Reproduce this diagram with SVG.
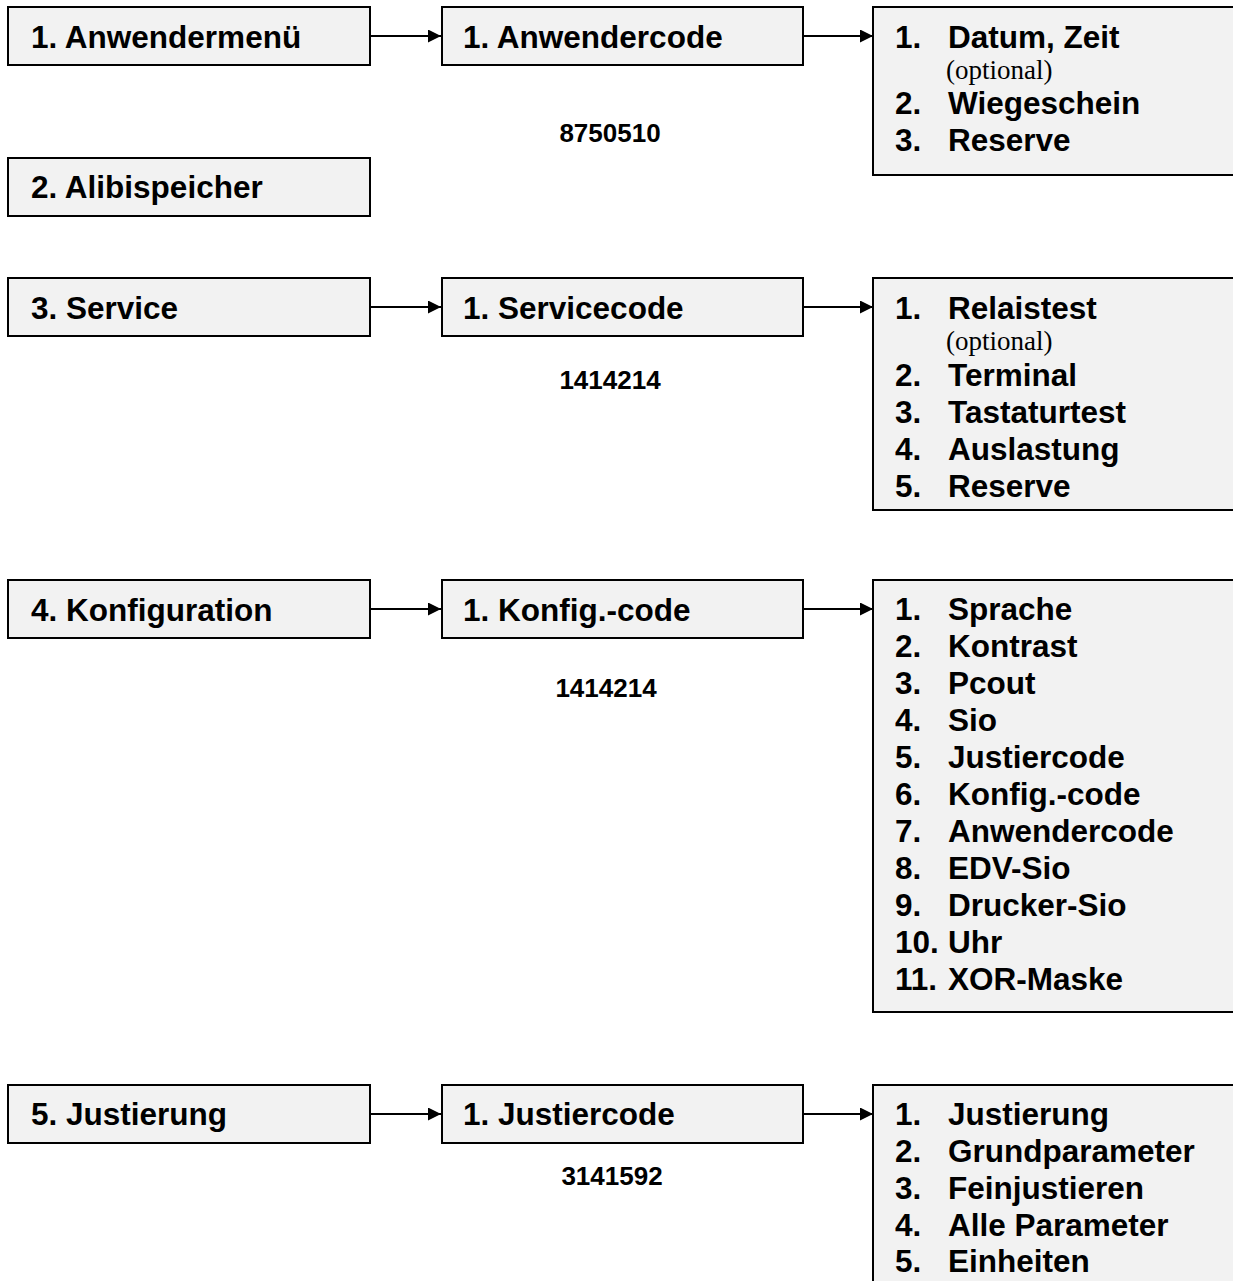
<svg xmlns="http://www.w3.org/2000/svg" width="1233" height="1281" viewBox="0 0 1233 1281">
<style>
  .box { fill: #f2f2f2; stroke: #000; stroke-width: 2; }
  .lbl { font-family: "Liberation Sans", Arial, sans-serif; font-weight: bold; font-size: 31.5px; fill: #000; }
  .li { font-family: "Liberation Sans", Arial, sans-serif; font-weight: bold; font-size: 31.5px; fill: #000; }
  .code { font-family: "Liberation Sans", Arial, sans-serif; font-weight: bold; font-size: 26px; fill: #000; text-anchor: middle; }
  .opt { font-family: "Liberation Serif", "Times New Roman", serif; font-size: 27px; fill: #000; }
  .conn { stroke: #000; stroke-width: 2; fill: none; marker-end: url(#arr); }
</style>
<defs>
  <marker id="arr" viewBox="0 0 10 10" refX="10" refY="5" markerWidth="8" markerHeight="6.5" markerUnits="strokeWidth" orient="auto">
    <path d="M0,0 L10,5 L0,10 z" fill="#000"/>
  </marker>
</defs>
<rect width="1233" height="1281" fill="#fff"/>

<g id="connectors">
  <line class="conn" x1="370" y1="36" x2="441" y2="36"/>
  <line class="conn" x1="803" y1="36" x2="873" y2="36"/>
  <line class="conn" x1="370" y1="307" x2="441" y2="307"/>
  <line class="conn" x1="803" y1="307" x2="873" y2="307"/>
  <line class="conn" x1="370" y1="609" x2="441" y2="609"/>
  <line class="conn" x1="803" y1="609" x2="873" y2="609"/>
  <line class="conn" x1="370" y1="1114" x2="441" y2="1114"/>
  <line class="conn" x1="803" y1="1114" x2="873" y2="1114"/>
</g>

<g id="n-anwendermenue"><rect class="box" x="8" y="7" width="362" height="58"/><text class="lbl" x="31" y="48">1. Anwendermenü</text></g>
<g id="n-anwendercode"><rect class="box" x="442" y="7" width="361" height="58"/><text class="lbl" x="463" y="48">1. Anwendercode</text><text class="code" x="610" y="142">8750510</text></g>
<g id="n-anwender-list"><rect class="box" x="873" y="7" width="370" height="168"/>
  <text class="li" x="895" y="48">1.</text><text class="li" x="948" y="48">Datum, Zeit</text>
  <text class="opt" x="946" y="79">(optional)</text>
  <text class="li" x="895" y="114">2.</text><text class="li" x="948" y="114">Wiegeschein</text>
  <text class="li" x="895" y="151">3.</text><text class="li" x="948" y="151">Reserve</text>
</g>

<g id="n-alibi"><rect class="box" x="8" y="158" width="362" height="58"/><text class="lbl" x="31" y="198">2. Alibispeicher</text></g>

<g id="n-service"><rect class="box" x="8" y="278" width="362" height="58"/><text class="lbl" x="31" y="319">3. Service</text></g>
<g id="n-servicecode"><rect class="box" x="442" y="278" width="361" height="58"/><text class="lbl" x="463" y="319">1. Servicecode</text><text class="code" x="610" y="389">1414214</text></g>
<g id="n-service-list"><rect class="box" x="873" y="278" width="370" height="232"/>
  <text class="li" x="895" y="319">1.</text><text class="li" x="948" y="319">Relaistest</text>
  <text class="opt" x="946" y="350">(optional)</text>
  <text class="li" x="895" y="386">2.</text><text class="li" x="948" y="386">Terminal</text>
  <text class="li" x="895" y="423">3.</text><text class="li" x="948" y="423">Tastaturtest</text>
  <text class="li" x="895" y="460">4.</text><text class="li" x="948" y="460">Auslastung</text>
  <text class="li" x="895" y="497">5.</text><text class="li" x="948" y="497">Reserve</text>
</g>

<g id="n-konfig"><rect class="box" x="8" y="580" width="362" height="58"/><text class="lbl" x="31" y="621">4. Konfiguration</text></g>
<g id="n-konfigcode"><rect class="box" x="442" y="580" width="361" height="58"/><text class="lbl" x="463" y="621">1. Konfig.-code</text><text class="code" x="606" y="697">1414214</text></g>
<g id="n-konfig-list"><rect class="box" x="873" y="580" width="370" height="432"/>
  <text class="li" x="895" y="620">1.</text><text class="li" x="948" y="620">Sprache</text>
  <text class="li" x="895" y="657">2.</text><text class="li" x="948" y="657">Kontrast</text>
  <text class="li" x="895" y="694">3.</text><text class="li" x="948" y="694">Pcout</text>
  <text class="li" x="895" y="731">4.</text><text class="li" x="948" y="731">Sio</text>
  <text class="li" x="895" y="768">5.</text><text class="li" x="948" y="768">Justiercode</text>
  <text class="li" x="895" y="805">6.</text><text class="li" x="948" y="805">Konfig.-code</text>
  <text class="li" x="895" y="842">7.</text><text class="li" x="948" y="842">Anwendercode</text>
  <text class="li" x="895" y="879">8.</text><text class="li" x="948" y="879">EDV-Sio</text>
  <text class="li" x="895" y="916">9.</text><text class="li" x="948" y="916">Drucker-Sio</text>
  <text class="li" x="895" y="953">10.</text><text class="li" x="948" y="953">Uhr</text>
  <text class="li" x="895" y="990">11.</text><text class="li" x="948" y="990">XOR-Maske</text>
</g>

<g id="n-justierung"><rect class="box" x="8" y="1085" width="362" height="58"/><text class="lbl" x="31" y="1125">5. Justierung</text></g>
<g id="n-justiercode"><rect class="box" x="442" y="1085" width="361" height="58"/><text class="lbl" x="463" y="1125">1. Justiercode</text><text class="code" x="612" y="1185">3141592</text></g>
<g id="n-justier-list"><rect class="box" x="873" y="1085" width="370" height="220"/>
  <text class="li" x="895" y="1125">1.</text><text class="li" x="948" y="1125">Justierung</text>
  <text class="li" x="895" y="1162">2.</text><text class="li" x="948" y="1162">Grundparameter</text>
  <text class="li" x="895" y="1199">3.</text><text class="li" x="948" y="1199">Feinjustieren</text>
  <text class="li" x="895" y="1236">4.</text><text class="li" x="948" y="1236">Alle Parameter</text>
  <text class="li" x="895" y="1272">5.</text><text class="li" x="948" y="1272">Einheiten</text>
</g>
</svg>
